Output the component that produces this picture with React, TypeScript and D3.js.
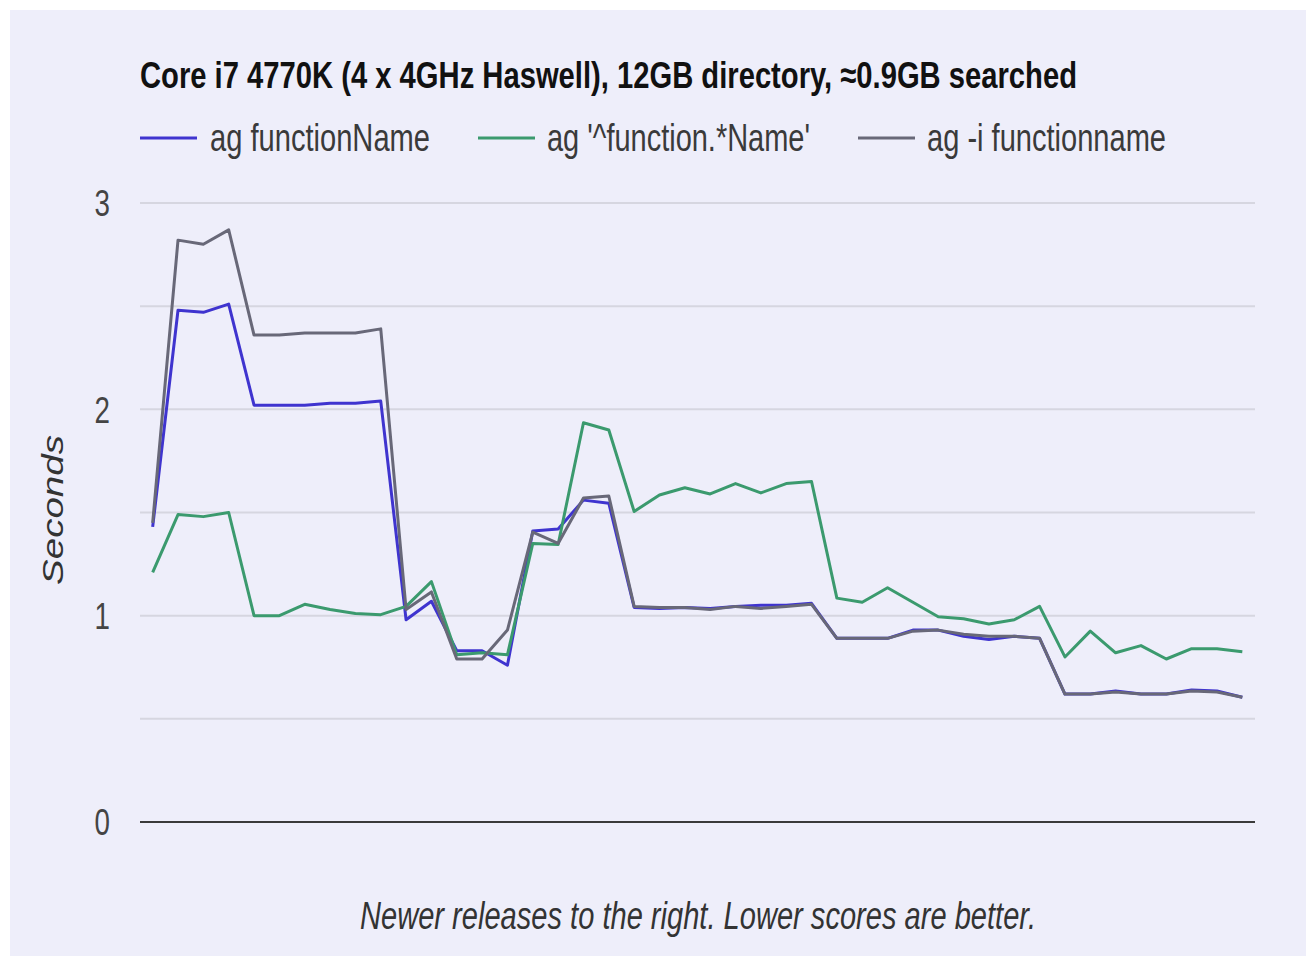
import React, { useEffect, useRef } from "react";
import * as d3 from "d3";

// seconds per release, oldest release on the left
const fnName = [
  1.43, 2.48, 2.47, 2.51, 2.02, 2.02, 2.02, 2.03, 2.03, 2.04, 0.98, 1.07, 0.83, 0.83, 0.76,
  1.41, 1.42, 1.56, 1.545, 1.04, 1.035, 1.04, 1.035, 1.045, 1.05, 1.05, 1.06, 0.89, 0.89,
  0.89, 0.93, 0.93, 0.9, 0.885, 0.9, 0.89, 0.62, 0.62, 0.635, 0.62, 0.62, 0.64, 0.635, 0.605,
];
const regexName = [
  1.21, 1.49, 1.48, 1.5, 1.0, 1.0, 1.055, 1.03, 1.01, 1.005, 1.045, 1.165, 0.81, 0.82, 0.81,
  1.35, 1.345, 1.935, 1.9, 1.505, 1.585, 1.62, 1.59, 1.64, 1.595, 1.64, 1.65, 1.085, 1.065,
  1.135, 1.065, 0.995, 0.985, 0.96, 0.98, 1.045, 0.8, 0.925, 0.82, 0.855, 0.79, 0.84, 0.84, 0.825,
];
const caseInsensitive = [
  1.45, 2.82, 2.8, 2.87, 2.36, 2.36, 2.37, 2.37, 2.37, 2.39, 1.03, 1.115, 0.79, 0.79, 0.93,
  1.405, 1.35, 1.57, 1.58, 1.045, 1.04, 1.04, 1.03, 1.045, 1.035, 1.045, 1.055, 0.89, 0.89,
  0.89, 0.925, 0.93, 0.91, 0.9, 0.9, 0.89, 0.62, 0.62, 0.63, 0.62, 0.62, 0.635, 0.63, 0.605,
];

const seriesNames = ["ag functionName", "ag '^function.*Name'", "ag -i functionname"];
const seriesColors = ["#3f34cf", "#3b9a6e", "#686878"];
const yTicks = [0, 0.5, 1, 1.5, 2, 2.5, 3];

const title = "Core i7 4770K (4 x 4GHz Haswell), 12GB directory, \u22480.9GB searched";
const footer = "Newer releases to the right. Lower scores are better.";

const FONT = "'Liberation Sans', Arial, sans-serif";
const squeeze = 0.75; // the whole picture is narrower than its text

const App = () => {
  const ref = useRef<SVGSVGElement | null>(null);

  useEffect(() => {
    if (!ref.current) return;
    const svg = d3.select(ref.current);
    svg.selectAll("*").remove();

    const width = 1306;
    const height = 956;
    const plot = { left: 140, right: 1255, top: 203, bottom: 822 };

    svg.append("rect").attr("width", width).attr("height", height).attr("fill", "#ffffff");
    svg
      .append("rect")
      .attr("x", 10)
      .attr("y", 10)
      .attr("width", width - 10)
      .attr("height", height - 10)
      .attr("fill", "#eeeefa");

    const series = [fnName, regexName, caseInsensitive];

    const x = d3
      .scalePoint<number>()
      .domain(d3.range(fnName.length))
      .range([plot.left, plot.right])
      .padding(0.5);

    const y = d3.scaleLinear().domain([0, 3]).range([plot.bottom, plot.top]);

    // grid
    svg
      .append("g")
      .selectAll("line")
      .data(yTicks)
      .enter()
      .append("line")
      .attr("x1", plot.left)
      .attr("x2", plot.right)
      .attr("y1", (d) => y(d))
      .attr("y2", (d) => y(d))
      .attr("stroke", (d) => (d === 0 ? "#3a3a3a" : "#d6d6e0"))
      .attr("stroke-width", 2);

    svg
      .append("g")
      .selectAll("text")
      .data(yTicks.filter((d) => Number.isInteger(d)))
      .enter()
      .append("text")
      .attr("transform", (d) => `translate(110,${y(d)}) scale(${squeeze},1)`)
      .attr("dy", "0.36em")
      .attr("text-anchor", "end")
      .style("font-family", FONT)
      .style("font-size", "37px")
      .style("fill", "#444")
      .text((d) => d);

    svg
      .append("text")
      .attr("transform", `translate(63,510) scale(${squeeze},1) rotate(-90)`)
      .attr("text-anchor", "middle")
      .style("font-family", FONT)
      .style("font-style", "italic")
      .style("font-size", "38.5px")
      .style("fill", "#333")
      .text("Seconds");

    const line = d3
      .line<number>()
      .x((_, i) => x(i) as number)
      .y((d) => y(d));

    series.forEach((values, i) => {
      svg
        .append("path")
        .datum(values)
        .attr("fill", "none")
        .attr("stroke", seriesColors[i])
        .attr("stroke-width", 3)
        .attr("stroke-linejoin", "round")
        .attr("d", line);
    });

    // title
    svg
      .append("text")
      .attr("x", 140)
      .attr("y", 88)
      .attr("textLength", 937)
      .attr("lengthAdjust", "spacingAndGlyphs")
      .style("font-family", FONT)
      .style("font-weight", "bold")
      .style("font-size", "37px")
      .style("fill", "#111")
      .text(title);

    // legend
    const legendItems = [
      { x: 140, textX: 210, w: 220 },
      { x: 478, textX: 547, w: 263 },
      { x: 858, textX: 927, w: 239 },
    ];
    legendItems.forEach((item, i) => {
      svg
        .append("line")
        .attr("x1", item.x)
        .attr("x2", item.x + 57)
        .attr("y1", 138)
        .attr("y2", 138)
        .attr("stroke", seriesColors[i])
        .attr("stroke-width", 3);
      svg
        .append("text")
        .attr("x", item.textX)
        .attr("y", 151)
        .attr("textLength", item.w)
        .attr("lengthAdjust", "spacingAndGlyphs")
        .style("font-family", FONT)
        .style("font-size", "38px")
        .style("fill", "#3a3a3a")
        .text(seriesNames[i]);
    });

    // footer
    svg
      .append("text")
      .attr("x", 360)
      .attr("y", 929)
      .attr("textLength", 676)
      .attr("lengthAdjust", "spacingAndGlyphs")
      .style("font-family", FONT)
      .style("font-style", "italic")
      .style("font-size", "38px")
      .style("fill", "#333")
      .text(footer);
  }, []);

  return (
    <svg
      ref={ref}
      width={1306}
      height={956}
      style={{ position: "absolute", left: 0, top: 0, display: "block" }}
    />
  );
};

export default App;
